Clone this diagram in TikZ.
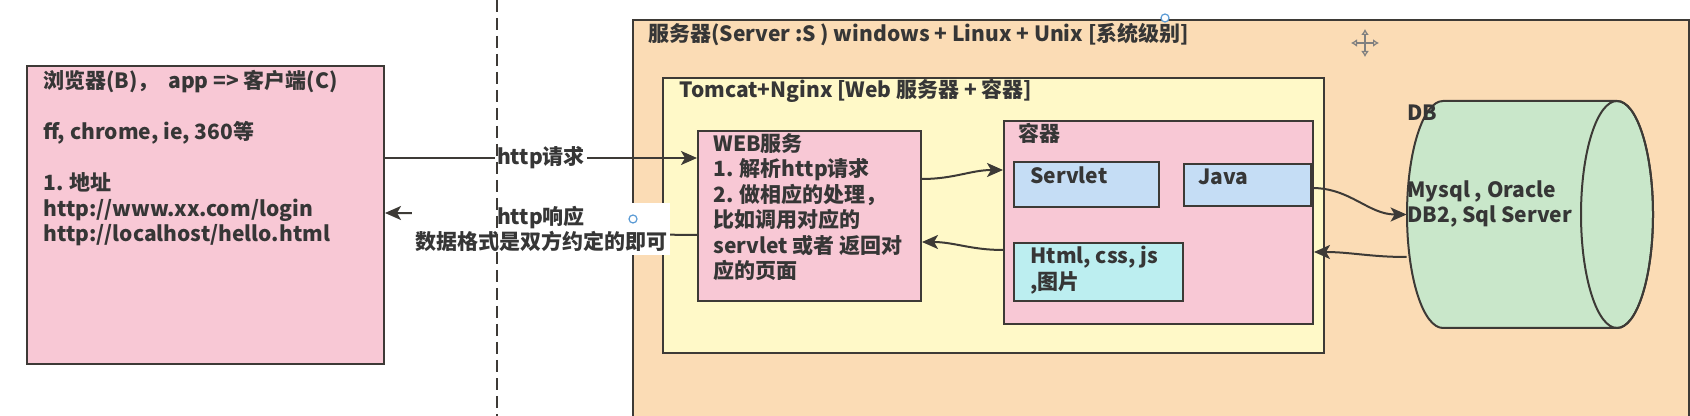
\documentclass[tikz,border=0pt]{standalone}
\usepackage{fontspec}
\setmainfont{Noto Sans CJK SC}
\usetikzlibrary{arrows.meta}
\definecolor{pinkc}{HTML}{F8C8D5}
\definecolor{orangec}{HTML}{FBDCB5}
\definecolor{yellowc}{HTML}{FFF9C8}
\definecolor{bluec}{HTML}{C5DDF5}
\definecolor{cyanc}{HTML}{BCEEF0}
\definecolor{greenc}{HTML}{C9E7CA}
\definecolor{linec}{HTML}{3D3A36}
\definecolor{textc}{HTML}{363636}
\definecolor{handlec}{HTML}{5B9BD5}
\begin{document}
\begin{tikzpicture}[x=0.5pt,y=-0.5pt,
  font=\fontsize{10.5pt}{12.75pt}\selectfont\bfseries,
  box/.style={draw=linec, line width=1pt, inner sep=0pt, anchor=north west},
  txt/.style={inner sep=0pt, align=left, text=textc},
  lbl/.style={fill=white, inner sep=1.5pt, align=center, text=textc},
  conn/.style={draw=linec, line width=1pt, -{Stealth[length=8pt,width=7pt,inset=2pt]}},
  divider/.style={draw=linec, line width=1pt, dash pattern=on 6pt off 3pt},
  handle/.style={circle, draw=handlec, fill=white, line width=0.6pt, inner sep=0pt, minimum size=4pt}]
\useasboundingbox (0,0) rectangle (1690,416);
\clip (0,0) rectangle (1690,416);
\fill[white] (0,0) rectangle (1690,416);

% server
\node[box, fill=orangec, minimum width=528pt, minimum height=210pt] (server) at (632,19) {};
\node[txt, anchor=west] (servertitle) at (648,35) {服务器(Server :S ) windows + Linux + Unix [系统级别]};

% tomcat
\node[box, fill=yellowc, minimum width=330.5pt, minimum height=137.5pt] (tomcat) at (662,77) {};
\node[txt, anchor=west] (tomcattitle) at (679,91) {Tomcat+Nginx [Web 服务器 + 容器]};

% client
\node[box, fill=pinkc, minimum width=178.5pt, minimum height=149pt] (client) at (26,65) {};
\node[txt, anchor=north west] (clienttext) at (43,70) {浏览器(B)，\ \ app => 客户端(C)\\ ~\\ ff, chrome, ie, 360等\\ ~\\ 1. 地址\\ http://www.xx.com/login\\ http://localhost/hello.html};

% web
\node[box, fill=pinkc, minimum width=111.5pt, minimum height=85pt] (web) at (697,130) {};
\node[txt, anchor=north west] (webtext) at (713,133) {WEB服务\\ 1. 解析http请求\\ 2. 做相应的处理，\\ 比如调用对应的\\ servlet 或者 返回对\\ 应的页面};

% container
\node[box, fill=pinkc, minimum width=154.5pt, minimum height=101.5pt] (ctr) at (1003,120) {};
\node[txt, anchor=west] (ctrtitle) at (1018,133) {容器};
\node[box, fill=bluec, minimum width=72.5pt, minimum height=22.5pt] (servlet) at (1013,161) {};
\node[txt, anchor=west] (servlettext) at (1030,175) {Servlet};
\node[box, fill=bluec, minimum width=63.5pt, minimum height=21pt] (java) at (1183,163) {};
\node[txt, anchor=west] (javatext) at (1198,177) {Java};
\node[box, fill=cyanc, minimum width=84.5pt, minimum height=29pt] (html) at (1013,242) {};
\node[txt, anchor=north west] (htmltext) at (1030,246) {Html, css, js\\ ,图片};

% db cylinder (drawn shape) and its anchor node
\filldraw[draw=linec, fill=greenc, line width=1pt]
  (1617,101) -- (1443,101)
  arc[start angle=90, end angle=270, x radius=18pt, y radius=56.75pt]
  -- (1617,328)
  arc[start angle=270, end angle=450, x radius=18pt, y radius=56.75pt] -- cycle;
\draw[draw=linec, line width=1pt] (1617,214.5) ellipse [x radius=18pt, y radius=56.75pt];
\node[inner sep=0pt, minimum width=123pt, minimum height=113.5pt] (db) at (1530,214.5) {};
\node[txt, anchor=west] (dbtitle) at (1407,113) {DB};
\node[txt, anchor=north west] (dbtext) at (1407,180) {Mysql , Oracle\\ DB2, Sql Server};

% connectors
\draw[conn] ([yshift=-46.5pt]client.north east) -- node[lbl, inner sep=1pt] (reqlabel) {http请求} ([yshift=-14pt]web.north west);
\draw[conn] ([yshift=-52.5pt]web.north west) to[out=180,in=0] ([yshift=-74pt]client.north east);
\node[lbl] (resplabel) at (541,229) {http响应\\ 数据格式是双方约定的即可};
\draw[conn] ([yshift=-24.5pt]web.north east) to[out=0,in=180] ([yshift=-25pt]ctr.north west);
\draw[conn] ([yshift=-65pt]ctr.north west) to[out=180,in=0] ([yshift=-56pt]web.north east);
\draw[conn] ([yshift=-12.5pt]java.north east) to[out=0,in=180] (db.west);
\draw[conn] ([yshift=-21.25pt]db.west) to[out=180,in=0] ([yshift=-66pt]ctr.north east);

% dashed divider
\coordinate (dtop) at (497,0);
\coordinate (dbot) at (497,416);
\draw[divider] (dtop) -- (dbot);

% selection handles and cursor
\node[handle] (h1) at (1165,18) {};
\node[handle] (h2) at (633,219) {};
\coordinate (cur) at (1365,43);
\draw[draw=gray, line width=0.8pt, {Latex[open,length=3pt,width=4pt]}-{Latex[open,length=3pt,width=4pt]}] ([xshift=-7pt]cur) -- ([xshift=7pt]cur);
\draw[draw=gray, line width=0.8pt, {Latex[open,length=3pt,width=4pt]}-{Latex[open,length=3pt,width=4pt]}] ([yshift=-7pt]cur) -- ([yshift=7pt]cur);
\end{tikzpicture}
\end{document}
